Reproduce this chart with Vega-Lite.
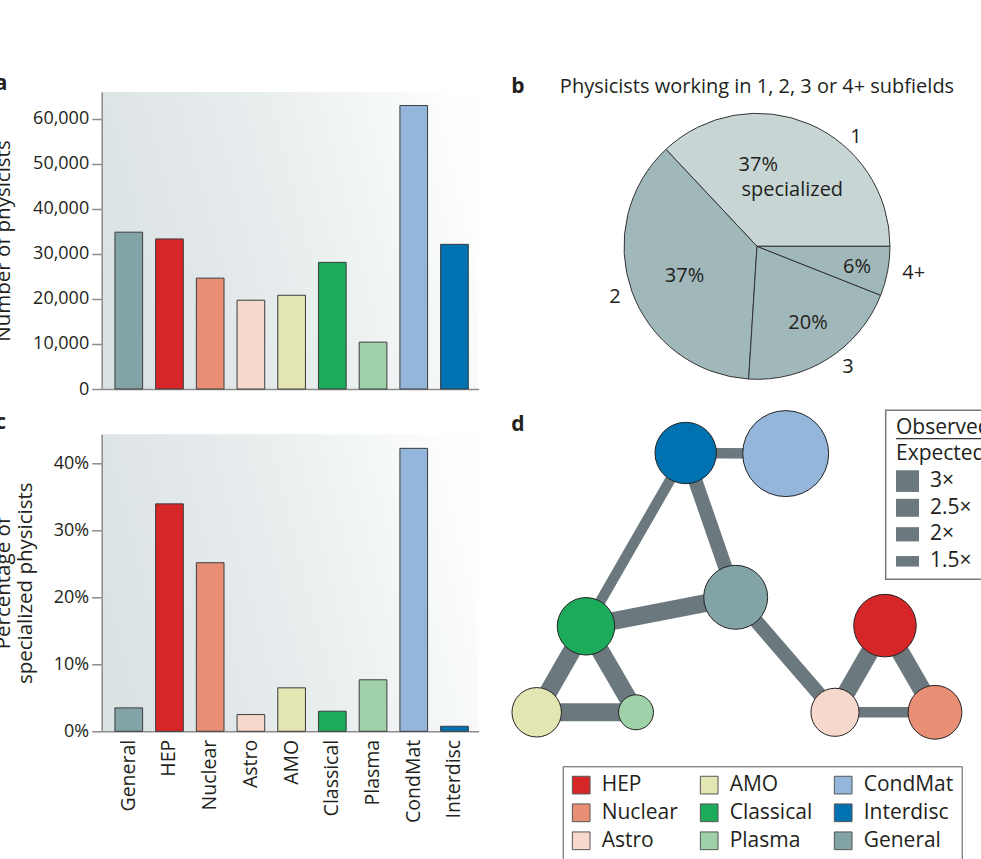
{
  "$schema": "https://vega.github.io/schema/vega-lite/v6.json",
  "autosize": {"type": "pad"},
  "padding": {"left": -6.3, "top": 73, "right": -20, "bottom": 0},
  "bounds": "flush",
  "align": "each",
  "columns": 2,
  "spacing": {"row": 45.3, "column": 54.3},
  "resolve": {"scale": {"color": "independent", "x": "independent", "y": "independent"}},
  "config": {
    "font": "Open Sans",
    "view": {"stroke": null},
    "axis": {"labelFont": "Open Sans", "titleFont": "Open Sans", "labelColor": "#231f20", "titleColor": "#231f20"},
    "legend": {"labelFont": "Open Sans", "titleFont": "Open Sans", "labelColor": "#231f20", "titleColor": "#231f20"},
    "title": {"font": "Open Sans", "color": "#231f20"},
    "text": {"font": "Open Sans", "color": "#231f20"}
  },
  "datasets": {
    "fields": [
      {"field": "General", "count": 34800, "pct": 3.5},
      {"field": "HEP", "count": 33300, "pct": 34.0},
      {"field": "Nuclear", "count": 24600, "pct": 25.2},
      {"field": "Astro", "count": 19700, "pct": 2.5},
      {"field": "AMO", "count": 20800, "pct": 6.5},
      {"field": "Classical", "count": 28100, "pct": 3.0},
      {"field": "Plasma", "count": 10400, "pct": 7.7},
      {"field": "CondMat", "count": 62900, "pct": 42.3},
      {"field": "Interdisc", "count": 32100, "pct": 0.75}
    ],
    "pie": [
      {"n": "1", "share": 37},
      {"n": "2", "share": 37},
      {"n": "3", "share": 20},
      {"n": "4+", "share": 6}
    ],
    "nodes": [
      {"field": "Interdisc", "x": 185.7, "y": 391.7},
      {"field": "CondMat", "x": 285.7, "y": 392.3},
      {"field": "General", "x": 235.7, "y": 536},
      {"field": "Classical", "x": 86, "y": 565},
      {"field": "AMO", "x": 36.7, "y": 651},
      {"field": "Plasma", "x": 136, "y": 651},
      {"field": "HEP", "x": 385, "y": 564.3},
      {"field": "Astro", "x": 335, "y": 651},
      {"field": "Nuclear", "x": 435, "y": 651}
    ],
    "edges": [
      {"source": "Interdisc", "target": "CondMat", "ratio": 1.5},
      {"source": "Interdisc", "target": "Classical", "ratio": 1.5},
      {"source": "Interdisc", "target": "General", "ratio": 2},
      {"source": "Classical", "target": "General", "ratio": 2.5},
      {"source": "Classical", "target": "AMO", "ratio": 2.5},
      {"source": "Classical", "target": "Plasma", "ratio": 2.5},
      {"source": "AMO", "target": "Plasma", "ratio": 2.5},
      {"source": "General", "target": "Astro", "ratio": 2},
      {"source": "HEP", "target": "Astro", "ratio": 2.5},
      {"source": "HEP", "target": "Nuclear", "ratio": 2.5},
      {"source": "Astro", "target": "Nuclear", "ratio": 1.5}
    ],
    "pielabels": [
      {"text": "Physicists working in 1, 2, 3 or 4+ subfields", "x": 257, "y": 31.7},
      {"text": "37%", "x": 258.3, "y": 110},
      {"text": "specialized", "x": 292.3, "y": 135},
      {"text": "37%", "x": 184.5, "y": 221},
      {"text": "20%", "x": 308, "y": 268},
      {"text": "6%", "x": 357, "y": 212},
      {"text": "1", "x": 356, "y": 81.7},
      {"text": "2", "x": 115, "y": 242},
      {"text": "3", "x": 348, "y": 312},
      {"text": "4+", "x": 413.7, "y": 218}
    ],
    "keybox": [{"x": 385.7, "x2": 500, "y": 349, "y2": 518}],
    "keytitle": [{"text": "Observed", "y": 373}, {"text": "Expected", "y": 399}],
    "keybar": [{"x": 396, "x2": 500, "y": 377.3}],
    "keyentries": [
      {"ratio": 3, "label": "3×", "y": 419.8},
      {"ratio": 2.5, "label": "2.5×", "y": 446.5},
      {"ratio": 2, "label": "2×", "y": 473},
      {"ratio": 1.5, "label": "1.5×", "y": 500}
    ]
  },
  "concat": [
    {
      "data": {"name": "fields"},
      "width": 377,
      "height": 297,
      "view": {
        "stroke": null,
        "fill": {"gradient": "linear", "x1": 0, "y1": 0.6, "x2": 1, "y2": 0.4,
          "stops": [{"offset": 0, "color": "#dbe2e4"}, {"offset": 0.5, "color": "#e8edee"}, {"offset": 1, "color": "#fdfefe"}]}
      },
      "title": {"text": "a", "anchor": "start", "frame": "group", "dx": -107, "dy": 20, "offset": 0.7, "baseline": "alphabetic", "fontSize": 21, "fontWeight": "bold"},
      "mark": {"type": "bar", "stroke": "#3c3c3c", "strokeWidth": 1},
      "encoding": {
        "x": {"field": "field", "type": "nominal", "sort": null,
          "scale": {"paddingInner": 0.32, "paddingOuter": 0.29, "align": 0.56},
          "axis": {"labels": false, "ticks": false, "title": null, "domainColor": "#8c8c8c", "domainWidth": 1.5}},
        "y": {"field": "count", "type": "quantitative",
          "scale": {"domain": [0, 65900], "nice": false},
          "axis": {"title": "Number of physicists", "titleX": -91.7, "titleY": 148.5, "titleAngle": 270, "titleAlign": "center", "titleBaseline": "alphabetic", "titleFontSize": 20.5, "titleFontWeight": "normal",
            "values": [0, 10000, 20000, 30000, 40000, 50000, 60000], "format": ",.0f", "labelFontSize": 18, "labelPadding": 3,
            "tickSize": 10, "tickColor": "#8c8c8c", "tickWidth": 1.5, "domainColor": "#8c8c8c", "domainWidth": 1.5, "grid": false}},
        "color": {"field": "field", "type": "nominal",
          "scale": {"domain": ["HEP", "Nuclear", "Astro", "AMO", "Classical", "Plasma", "CondMat", "Interdisc", "General"],
            "range": ["#d62628", "#e98f75", "#f6d9cc", "#e3e5b2", "#1bab5b", "#9ed1a7", "#93b6da", "#0072b1", "#82a4a7"]},
          "legend": null}
      }
    },
    {
      "width": 448,
      "height": 297,
      "view": {"stroke": null},
      "layer": [
        {
          "data": {"name": "pie"},
          "mark": {"type": "arc", "radius": 133, "stroke": "#333333", "strokeWidth": 1},
          "encoding": {
            "theta": {"field": "share", "type": "quantitative", "stack": true, "scale": {"range": [1.5708, 7.854]}},
            "order": {"field": "n", "sort": "descending"},
            "fill": {"field": "n", "type": "nominal", "scale": {"domain": ["1", "2", "3", "4+"], "range": ["#c7d6d5", "#a0b8ba", "#a0b8ba", "#a0b8ba"]}, "legend": null},
            "x": {"datum": 257, "type": "quantitative", "scale": {"domain": [33, 481], "nice": false, "zero": false}, "axis": null},
            "y": {"datum": 185, "type": "quantitative", "scale": {"domain": [30.7, 327.7], "nice": false, "zero": false, "reverse": true}, "axis": null}
          }
        },
        {
          "data": {"name": "pielabels"},
          "mark": {"type": "text", "align": "center", "baseline": "alphabetic", "fontSize": 20},
          "encoding": {
            "x": {"field": "x", "type": "quantitative"},
            "y": {"field": "y", "type": "quantitative"},
            "text": {"field": "text"}
          }
        },
        {
          "data": {"values": [{"text": "b", "x": 18, "y": 31.7}]},
          "mark": {"type": "text", "align": "center", "baseline": "alphabetic", "fontSize": 21, "fontWeight": "bold"},
          "encoding": {
            "x": {"field": "x", "type": "quantitative"},
            "y": {"field": "y", "type": "quantitative"},
            "text": {"field": "text"}
          }
        }
      ]
    },
    {
      "data": {"name": "fields"},
      "width": 377,
      "height": 297,
      "view": {
        "stroke": null,
        "fill": {"gradient": "linear", "x1": 0, "y1": 0.6, "x2": 1, "y2": 0.4,
          "stops": [{"offset": 0, "color": "#dbe2e4"}, {"offset": 0.5, "color": "#e8edee"}, {"offset": 1, "color": "#fdfefe"}]}
      },
      "title": {"text": "c", "anchor": "start", "frame": "group", "dx": -106.5, "dy": 20, "offset": 4.7, "baseline": "alphabetic", "fontSize": 21, "fontWeight": "bold"},
      "mark": {"type": "bar", "stroke": "#3c3c3c", "strokeWidth": 1},
      "encoding": {
        "x": {"field": "field", "type": "nominal", "sort": null,
          "scale": {"paddingInner": 0.32, "paddingOuter": 0.29, "align": 0.56},
          "axis": {"title": null, "ticks": false, "labelAngle": 270, "labelPadding": 8, "labelFontSize": 19.5, "domainColor": "#8c8c8c", "domainWidth": 1.5}},
        "y": {"field": "pct", "type": "quantitative",
          "scale": {"domain": [0, 44.4], "nice": false},
          "axis": {"title": ["Percentage of", "specialized physicists"], "titleX": -91.7, "titleY": 148.5, "titleAngle": 270, "titleAlign": "center", "titleBaseline": "alphabetic", "titleLineHeight": 22, "titleFontSize": 20.5, "titleFontWeight": "normal",
            "values": [0, 10, 20, 30, 40], "labelExpr": "datum.value + '%'", "labelFontSize": 18, "labelPadding": 3,
            "tickSize": 10, "tickColor": "#8c8c8c", "tickWidth": 1.5, "domainColor": "#8c8c8c", "domainWidth": 1.5, "grid": false}},
        "color": {"field": "field", "type": "nominal",
          "scale": {"domain": ["HEP", "Nuclear", "Astro", "AMO", "Classical", "Plasma", "CondMat", "Interdisc", "General"],
            "range": ["#d62628", "#e98f75", "#f6d9cc", "#e3e5b2", "#1bab5b", "#9ed1a7", "#93b6da", "#0072b1", "#82a4a7"]},
          "legend": null}
      }
    },
    {
      "width": 448,
      "height": 426,
      "view": {"stroke": null},
      "layer": [
        {
          "data": {"name": "edges"},
          "transform": [
            {"lookup": "source", "from": {"data": {"name": "nodes"}, "key": "field", "fields": ["x", "y"]}, "as": ["sx", "sy"]},
            {"lookup": "target", "from": {"data": {"name": "nodes"}, "key": "field", "fields": ["x", "y"]}, "as": ["tx", "ty"]}
          ],
          "mark": {"type": "rule", "color": "#6b787d", "strokeCap": "butt"},
          "encoding": {
            "x": {"field": "sx", "type": "quantitative", "scale": {"domain": [33, 481], "nice": false, "zero": false}, "axis": null},
            "y": {"field": "sy", "type": "quantitative", "scale": {"domain": [373, 799], "nice": false, "zero": false, "reverse": true}, "axis": null},
            "x2": {"field": "tx"},
            "y2": {"field": "ty"},
            "strokeWidth": {"field": "ratio", "type": "quantitative",
              "scale": {"domain": [1.5, 3], "range": [10.5, 21.7], "zero": false}, "legend": null}
          }
        },
        {
          "data": {"name": "nodes"},
          "transform": [
            {"lookup": "field", "from": {"data": {"name": "fields"}, "key": "field", "fields": ["count"]}}
          ],
          "mark": {"type": "circle", "stroke": "#222222", "strokeWidth": 1, "opacity": 1},
          "encoding": {
            "x": {"field": "x", "type": "quantitative"},
            "y": {"field": "y", "type": "quantitative"},
            "size": {"field": "count", "type": "quantitative", "scale": {"domain": [0, 63000], "range": [0, 7402]}, "legend": null},
            "color": {"field": "field", "type": "nominal",
              "scale": {"domain": ["HEP", "Nuclear", "Astro", "AMO", "Classical", "Plasma", "CondMat", "Interdisc", "General"],
                "range": ["#d62628", "#e98f75", "#f6d9cc", "#e3e5b2", "#1bab5b", "#9ed1a7", "#93b6da", "#0072b1", "#82a4a7"]},
              "legend": {"orient": "none", "legendX": 29.7, "legendY": 332, "columns": 3, "title": null,
                "symbolType": "square", "symbolSize": 313, "symbolStrokeColor": "#555555", "symbolStrokeWidth": 1, "symbolOpacity": 1,
                "labelFontSize": 21, "labelOffset": 10, "columnPadding": 19, "rowPadding": 5, "padding": 8, "strokeColor": "#555555"}}
          }
        },
        {
          "data": {"values": [{"text": "d", "x": 18, "y": 370}]},
          "mark": {"type": "text", "align": "center", "baseline": "alphabetic", "fontSize": 21, "fontWeight": "bold"},
          "encoding": {
            "x": {"field": "x", "type": "quantitative"},
            "y": {"field": "y", "type": "quantitative"},
            "text": {"field": "text"}
          }
        },
        {
          "data": {"name": "keybox"},
          "mark": {"type": "rect", "fill": null, "stroke": "#777777", "strokeWidth": 1.5},
          "encoding": {
            "x": {"field": "x", "type": "quantitative"},
            "x2": {"field": "x2"},
            "y": {"field": "y", "type": "quantitative"},
            "y2": {"field": "y2"}
          }
        },
        {
          "data": {"name": "keybar"},
          "mark": {"type": "rule", "color": "#333333", "strokeWidth": 1.2},
          "encoding": {
            "x": {"field": "x", "type": "quantitative"},
            "x2": {"field": "x2"},
            "y": {"field": "y", "type": "quantitative"}
          }
        },
        {
          "data": {"name": "keytitle"},
          "mark": {"type": "text", "align": "left", "baseline": "alphabetic", "fontSize": 21},
          "encoding": {
            "x": {"datum": 396, "type": "quantitative"},
            "y": {"field": "y", "type": "quantitative"},
            "text": {"field": "text"}
          }
        },
        {
          "data": {"name": "keyentries"},
          "mark": {"type": "rule", "color": "#6b787d", "strokeCap": "butt"},
          "encoding": {
            "x": {"datum": 396, "type": "quantitative"},
            "x2": {"datum": 419},
            "y": {"field": "y", "type": "quantitative"},
            "strokeWidth": {"field": "ratio", "type": "quantitative", "legend": null}
          }
        },
        {
          "data": {"name": "keyentries"},
          "mark": {"type": "text", "align": "left", "baseline": "middle", "fontSize": 21},
          "encoding": {
            "x": {"datum": 430, "type": "quantitative"},
            "y": {"field": "y", "type": "quantitative"},
            "text": {"field": "label"}
          }
        }
      ]
    }
  ]
}
